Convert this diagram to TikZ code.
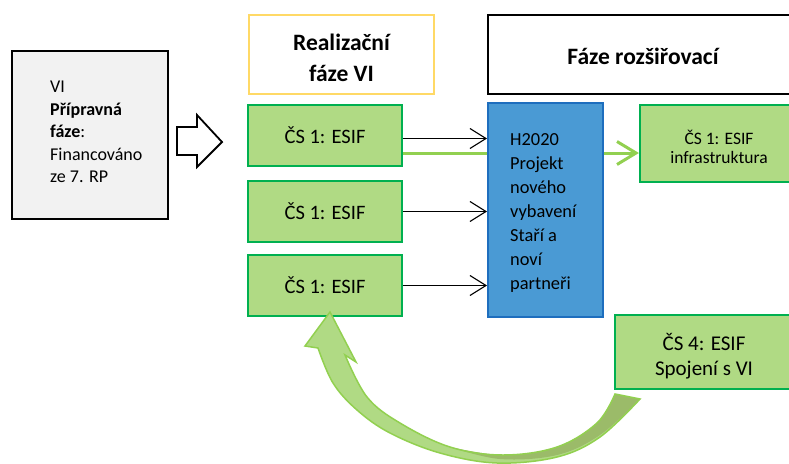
\documentclass[tikz,border=0pt]{standalone}
\usepackage{fontspec}
\setmainfont{Carlito}
\usetikzlibrary{arrows.meta}
\definecolor{gfill}{RGB}{176,218,132}
\definecolor{gborder}{RGB}{0,176,80}
\definecolor{lgreen}{RGB}{146,208,80}
\definecolor{dgreen}{RGB}{155,187,105}
\definecolor{bfill}{RGB}{74,154,212}
\definecolor{bborder}{RGB}{30,110,190}
\definecolor{grayfill}{RGB}{242,242,242}
\definecolor{goldline}{RGB}{255,217,102}
\begin{document}
\begin{tikzpicture}[x=1pt,y=-1pt,
  gbox/.style={draw=gborder, fill=gfill, line width=2.2pt, inner sep=0pt, align=center},
  titlebox/.style={fill=white, line width=2pt, inner sep=0pt},
  titletext/.style={inner sep=0pt, align=center, font=\bfseries\fontsize{23.5}{31}\selectfont},
  blackarrow/.style={line width=1.1pt, -{Straight Barb[length=16pt,width=20pt,line width=1.1pt]}},
  greenline/.style={draw=lgreen, line width=3pt},
  greenarrow/.style={draw=lgreen, line width=3pt, -{Straight Barb[length=19pt,width=23pt,line width=3pt]}}
]
\clip (0,0) rectangle (789,463);
\fill[white] (0,0) rectangle (789,463);

% preparatory phase
\node[draw=black, fill=grayfill, line width=2pt, minimum width=156pt, minimum height=168pt, inner sep=0pt] (prep) at (90,135) {};
\node[anchor=west, align=left, inner sep=0pt, font=\fontsize{18}{22.5}\selectfont] (preptext) at (50,132)
  {VI\\\textbf{Přípravná}\\\textbf{fáze}:\\Financováno\\ze 7. RP};

% hollow arrow
\draw[line width=1.8pt, fill=white, line join=miter] (177,127) -- (197,127) -- (197,115) -- (222,142) -- (197,167) -- (197,155) -- (177,155) -- cycle;

% titles
\node[titlebox, draw=goldline, minimum width=185pt, minimum height=79pt] (real) at (341.5,54.5) {};
\node[titletext] (realtext) at (341.5,57.5) {Realizační\\fáze VI};
\node[titlebox, draw=black, minimum width=310pt, minimum height=79pt] (rozs) at (643,54.5) {};
\node[titletext] (rozstext) at (643,56.5) {Fáze rozšiřovací};

% left green boxes
\node[gbox, minimum width=154pt, minimum height=61pt, font=\fontsize{20.5}{25}\selectfont] (g1) at (325,135.5) {ČS 1: ESIF};
\node[gbox, minimum width=154pt, minimum height=61pt, font=\fontsize{20.5}{25}\selectfont] (g2) at (325,211.5) {ČS 1: ESIF};
\node[gbox, minimum width=154pt, minimum height=61pt, font=\fontsize{20.5}{25}\selectfont] (g3) at (325,285.5) {ČS 1: ESIF};

% blue box
\node[draw=bborder, fill=bfill, line width=2pt, minimum width=115pt, minimum height=214pt, inner sep=0pt] (h2020) at (545.5,210) {};
\node[anchor=west, align=left, inner sep=0pt, font=\fontsize{18.4}{24}\selectfont] (h2020text) at (510,213)
  {H2020\\Projekt\\nového\\vybavení\\Staří a\\noví\\partneři};

% right boxes
\node[gbox, minimum width=158pt, minimum height=77pt] (infra) at (719,143.5) {};
\node[inner sep=0pt, align=center, font=\fontsize{17.5}{18.5}\selectfont] (infratext) at (719,147) {ČS 1: ESIF\\infrastruktura};
\node[gbox, minimum width=180pt, minimum height=74pt] (cs4) at (705,352) {};
\node[inner sep=0pt, align=center, font=\fontsize{21}{25}\selectfont] (cs4text) at (704,356) {ČS 4: ESIF\\Spojení s VI};

% connectors
\draw[blackarrow] ([yshift=-3pt]g1.east) -- ([yshift=-3pt]g1.east -| h2020.west);
\draw[blackarrow] (g2.east) -- (g2.east -| h2020.west);
\draw[blackarrow] (g3.east) -- (g3.east -| h2020.west);
\draw[greenline] ([yshift=-17.5pt]g1.east) -- ([yshift=-17.5pt]g1.east -| h2020.west);
\draw[greenarrow] ([yshift=-17.5pt]g1.east -| h2020.east) -- ([yshift=-17.5pt]g1.east -| infra.west);

% curved block arrow from CS4 back to the third box
\fill[gfill] (330,312) -- (356,362) -- (345,355)
  -- plot[smooth, tension=0.6] coordinates {(345,355) (367,397) (400,423) (450,447) (503,455) (557,447) (597,423) (615,394)}
  -- (640,399)
  -- plot[smooth, tension=0.6] coordinates {(640,399) (600,437) (557,457) (497,463) (440,453) (390,433) (357,410) (333,383) (318,348)}
  -- (305,346) -- cycle;
\fill[dgreen] plot[smooth, tension=0.6] coordinates {(615,394) (597,423) (557,447) (503,455) (450,447)}
  -- plot[smooth, tension=0.6] coordinates {(450,447) (500,459) (557,455) (600,435) (640,399)} -- cycle;
\draw[lgreen, line width=1.5pt, line join=miter] (330,312) -- (356,362) -- (345,355)
  -- plot[smooth, tension=0.6] coordinates {(345,355) (367,397) (400,423) (450,447) (503,455) (557,447) (597,423) (615,394)}
  -- (640,399)
  -- plot[smooth, tension=0.6] coordinates {(640,399) (600,437) (557,457) (497,463) (440,453) (390,433) (357,410) (333,383) (318,348)}
  -- (305,346) -- cycle;
\end{tikzpicture}
\end{document}
